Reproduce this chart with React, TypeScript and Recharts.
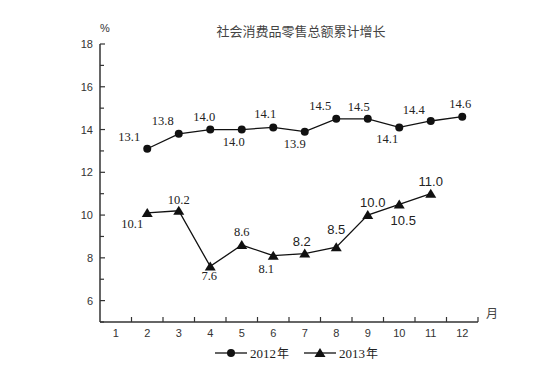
import React from 'react'
import { LineChart, Line, XAxis, YAxis, LabelList } from 'recharts'

const months = ['1', '2', '3', '4', '5', '6', '7', '8', '9', '10', '11', '12']
const growth2012 = [null, 13.1, 13.8, 14.0, 14.0, 14.1, 13.9, 14.5, 14.5, 14.1, 14.4, 14.6]
const growth2013 = [null, 10.1, 10.2, 7.6, 8.6, 8.1, 8.2, 8.5, 10.0, 10.5, 11.0, null]
const yTicks = [5, 6, 7, 8, 9, 10, 11, 12, 13, 14, 15, 16, 17, 18]

// label offsets (dx, dy) from each point
const offsets2012 = [
  [0, 0], [-18, -12], [-16, -13], [-6, -13], [-8, 12], [-8, -13],
  [-10, 12], [-16, -13], [-9, -12], [-12, 12], [-17, -11], [-2, -13],
]
const offsets2013 = [
  [0, 0], [-15, 11], [0, -11], [-1, 10], [0, -13], [-7, 13],
  [-3, -12], [0, -17], [5, -12], [4, 17], [0, -12], [0, 0],
]
// the source mixes fonts in the 2013 labels
const sans2013 = [false, false, false, false, false, false, true, true, true, true, true, false]

const W = 554
const H = 386
const margin = { top: 44, right: 76, bottom: 34, left: 0 }
const yAxisWidth = 100
const band = (W - yAxisWidth - margin.right) / months.length

const SERIF = '"Liberation Serif", "DejaVu Serif", serif'
const SANS = '"Liberation Sans", Arial, sans-serif'
const CJK = '"Noto Sans CJK SC", sans-serif'

const data = months.map((m, i) => ({ month: m, y2012: growth2012[i], y2013: growth2013[i] }))

const YTick = ({ x, y, payload }: any) => {
  const major = payload.value % 2 === 0
  return (
    <g>
      <line x1={x} x2={x + (major ? 5 : 4)} y1={y} y2={y} stroke="#333" strokeWidth={1.2} />
      {major && (
        <text x={x - 7} y={y} dy={4} textAnchor="end" fontSize={11} fontFamily={SANS} fill="#333">
          {payload.value}
        </text>
      )}
    </g>
  )
}

const XTick = ({ x, y, payload }: any) => (
  <g>
    <line x1={x + band / 2} x2={x + band / 2} y1={y} y2={y - 5} stroke="#333" strokeWidth={1.2} />
    <text x={x} y={y + 15} textAnchor="middle" fontSize={11} fontFamily={SANS} fill="#333">
      {payload.value}
    </text>
  </g>
)

const Triangle = ({ cx, cy, size = 5 }: any) => {
  if (cx == null || cy == null) return null
  return (
    <polygon
      points={`${cx},${cy - size} ${cx - size * 1.1},${cy + size * 0.8} ${cx + size * 1.1},${cy + size * 0.8}`}
      fill="#111"
    />
  )
}

const makeLabel = (offsets: number[][], sans?: boolean[]) => (props: any) => {
  const { x, y, value, index } = props
  if (value == null) return null
  const [dx, dy] = offsets[index]
  const isSans = sans ? sans[index] : false
  return (
    <text
      x={x + dx}
      y={y + dy}
      dy={4}
      textAnchor="middle"
      fontSize={isSans ? 13 : 12.5}
      fontFamily={isSans ? SANS : SERIF}
      fill="#222"
    >
      {Number(value).toFixed(1)}
    </text>
  )
}

export default function App() {
  return (
    <div style={{ position: 'absolute', left: 0, top: 0, width: W, height: H, background: '#fff' }}>
      <LineChart width={W} height={H} data={data} margin={margin}>
        <XAxis
          dataKey="month"
          stroke="#333"
          strokeWidth={1.5}
          tickSize={0}
          tickMargin={0}
          height={30}
          interval={0}
          padding={{ left: band / 2, right: band / 2 }}
          tick={<XTick />}
        />
        <YAxis
          type="number"
          domain={[5, 18]}
          ticks={yTicks}
          interval={0}
          width={yAxisWidth}
          stroke="#333"
          strokeWidth={1.5}
          tickSize={0}
          tickMargin={0}
          tick={<YTick />}
        />
        <Line
          dataKey="y2012"
          stroke="#111"
          strokeWidth={1.3}
          dot={{ r: 4, fill: '#111', stroke: 'none' }}
          isAnimationActive={false}
        >
          <LabelList dataKey="y2012" content={makeLabel(offsets2012)} />
        </Line>
        <Line
          dataKey="y2013"
          stroke="#111"
          strokeWidth={1.3}
          dot={<Triangle />}
          isAnimationActive={false}
        >
          <LabelList dataKey="y2013" content={makeLabel(offsets2013, sans2013)} />
        </Line>
      </LineChart>

      <div style={{ position: 'absolute', left: 0, width: 602, top: 21, textAlign: 'center', fontFamily: CJK, fontSize: 13, color: '#444' }}>
        社会消费品零售总额累计增长
      </div>
      <div style={{ position: 'absolute', left: 100, top: 22, fontFamily: SANS, fontSize: 11, color: '#333' }}>%</div>
      <div style={{ position: 'absolute', left: 486, top: 304, fontFamily: CJK, fontSize: 12, color: '#444' }}>月</div>

      <svg style={{ position: 'absolute', left: 0, top: 340 }} width={W} height={28}>
        <line x1={215} x2={247} y1={13} y2={13} stroke="#111" strokeWidth={1.3} />
        <circle cx={231} cy={13} r={4} fill="#111" />
        <text x={250} y={18} fontSize={13} fontFamily={SERIF} fill="#222">2012</text>
        <text x={277} y={18} fontSize={12} fontFamily={CJK} fill="#222">年</text>
        <line x1={304} x2={336} y1={13} y2={13} stroke="#111" strokeWidth={1.3} />
        <Triangle cx={320} cy={13} />
        <text x={339} y={18} fontSize={13} fontFamily={SERIF} fill="#222">2013</text>
        <text x={366} y={18} fontSize={12} fontFamily={CJK} fill="#222">年</text>
      </svg>
    </div>
  )
}
